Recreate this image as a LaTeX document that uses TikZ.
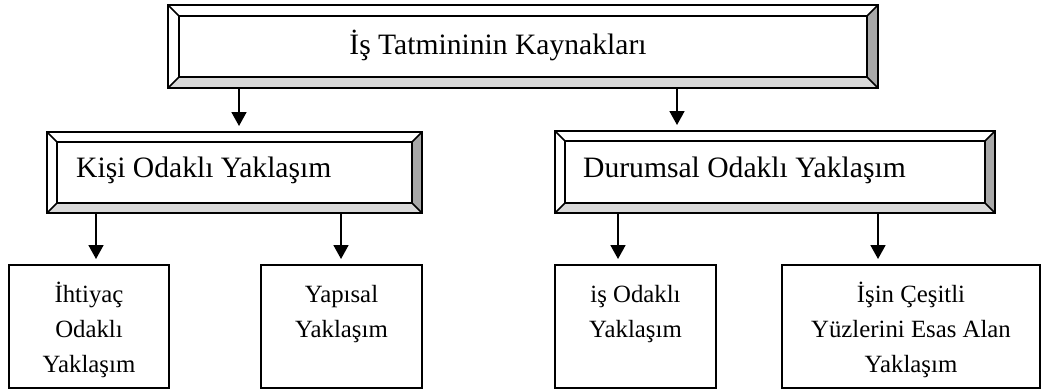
\documentclass[tikz,border=0pt]{standalone}
\usepackage{fontspec}
\setmainfont{Liberation Serif}
\usetikzlibrary{arrows.meta}

\definecolor{bevellight}{gray}{0.85}
\definecolor{beveldark}{gray}{0.66}

\tikzset{
  boxline/.style={line width=1.6pt, line join=miter},
  frame/.style={draw, boxline, inner sep=0pt, outer sep=0pt},
  leaf/.style={draw, line width=1.5pt, inner sep=0pt, outer sep=0pt},
  bigfont/.style={font=\fontsize{29.6}{35}\selectfont, inner sep=0pt},
  smallfont/.style={font=\fontsize{24.8}{35}\selectfont, inner sep=0pt},
  link/.style={line width=1.8pt, -{Triangle[length=14pt,width=15pt]}, shorten >=6pt},
}

% bevelled frame: name, x1, y1, x2, y2, bevel width
\newcommand\bevelbox[6]{%
  \fill[white] (#2,#3) rectangle (#4,#5);
  \fill[bevellight] (#2,#5) -- (#4,#5) -- ({#4-#6},{#5-#6}) -- ({#2+#6},{#5-#6}) -- cycle;
  \fill[beveldark] (#4,#3) -- (#4,#5) -- ({#4-#6},{#5-#6}) -- ({#4-#6},{#3+#6}) -- cycle;
  \draw[boxline] ({#2+#6},{#3+#6}) rectangle ({#4-#6},{#5-#6});
  \draw[boxline] (#2,#3) -- ({#2+#6},{#3+#6}) (#4,#3) -- ({#4-#6},{#3+#6})
                 (#2,#5) -- ({#2+#6},{#5-#6}) (#4,#5) -- ({#4-#6},{#5-#6});
  \node[frame, minimum width={#4-#2}, minimum height={#5-#3}] (#1)
       at ({(#2+#4)/2},{(#3+#5)/2}) {};
}

\begin{document}
\begin{tikzpicture}[x=1pt, y=-1pt]
\useasboundingbox (0,0) rectangle (1042,389);

% bevelled headings
\bevelbox{root}{168}{5}{878}{88}{11}
\bevelbox{person}{47}{132}{422}{213}{10}
\bevelbox{situation}{555}{131}{995}{213}{10}

\node[bigfont, anchor=base] (rootlabel) at (498,54) {İş Tatmininin Kaynakları};
\node[bigfont, anchor=base west] (personlabel) at (76,177) {Kişi Odaklı Yaklaşım};
\node[bigfont, anchor=base west] (situationlabel) at (583,177) {Durumsal Odaklı Yaklaşım};

% leaf boxes
\node[leaf, minimum width=160, minimum height=123] (need)  at (89,326.5) {};
\node[leaf, minimum width=161, minimum height=123] (struct) at (341.5,326.5) {};
\node[leaf, minimum width=161, minimum height=123] (job)   at (635.5,326.5) {};
\node[leaf, minimum width=258, minimum height=123] (facet) at (911,326.5) {};

\node[smallfont, anchor=base] (need1) at (89,302) {İhtiyaç};
\node[smallfont, anchor=base] (need2) at (89,337) {Odaklı};
\node[smallfont, anchor=base] (need3) at (89,372) {Yaklaşım};

\node[smallfont, anchor=base] (struct1) at (341.5,302) {Yapısal};
\node[smallfont, anchor=base] (struct2) at (341.5,337) {Yaklaşım};

\node[smallfont, anchor=base] (job1) at (635.5,302) {iş Odaklı};
\node[smallfont, anchor=base] (job2) at (635.5,337) {Yaklaşım};

\node[smallfont, anchor=base] (facet1) at (911,302) {İşin Çeşitli};
\node[smallfont, anchor=base] (facet2) at (911,337) {Yüzlerini Esas Alan};
\node[smallfont, anchor=base] (facet3) at (911,372) {Yaklaşım};

% arrow columns
\coordinate (c1) at (239,0);
\coordinate (c2) at (677,0);
\coordinate (c3) at (96,0);
\coordinate (c4) at (341,0);
\coordinate (c5) at (618,0);
\coordinate (c6) at (878,0);

\draw[link] (root.south -| c1) -- (person.north -| c1);
\draw[link] (root.south -| c2) -- (situation.north -| c2);
\draw[link] (person.south -| c3) -- (need.north -| c3);
\draw[link] (person.south -| c4) -- (struct.north -| c4);
\draw[link] (situation.south -| c5) -- (job.north -| c5);
\draw[link] (situation.south -| c6) -- (facet.north -| c6);
\end{tikzpicture}
\end{document}
